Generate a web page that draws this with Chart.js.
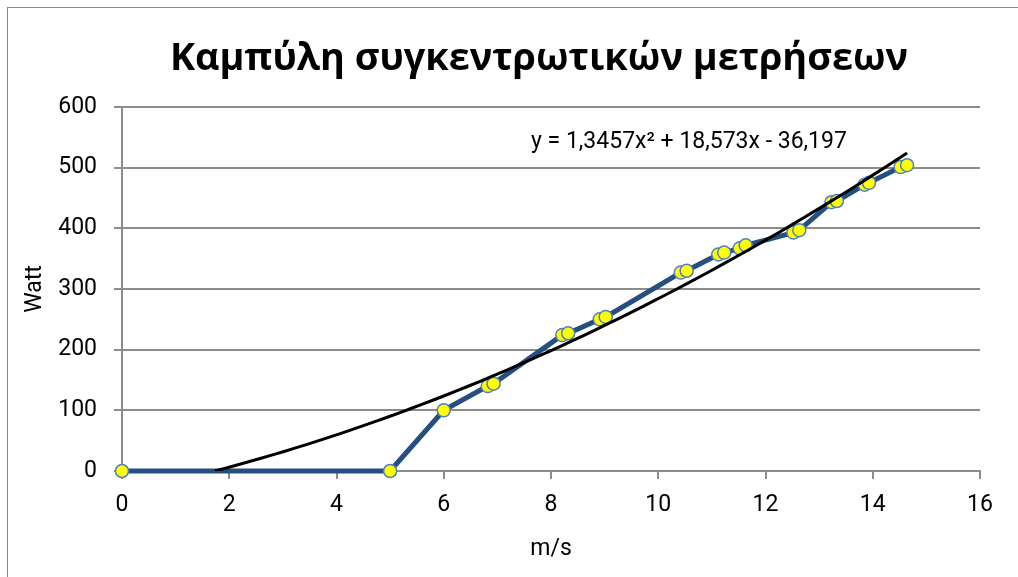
<!DOCTYPE html>
<html>
<head>
<meta charset="utf-8">
<script src="https://cdn.jsdelivr.net/npm/chart.js@4.4.0/dist/chart.umd.min.js"></script>
<style>
  html, body { margin: 0; padding: 0; background: #ffffff; }
  #wrap { position: relative; width: 1018px; height: 577px; }
  canvas { display: block; }
</style>
</head>
<body>
<div id="wrap"><canvas id="c" width="1018" height="577"></canvas></div>
<script>
// Wind speed (m/s) and measured power (W), in measurement order
const speeds = [0, 5.0, 6.0, 6.82, 6.93, 8.21, 8.32, 8.91, 9.02, 10.42, 10.53,
                11.12, 11.23, 11.52, 11.63, 12.52, 12.63, 13.23, 13.33, 13.85,
                13.93, 14.52, 14.64];
const power  = [0, 0, 100, 140, 144, 224, 227, 250, 254, 327, 330,
                357, 360, 367, 372, 393, 397, 443, 445, 472,
                475, 501, 504];

// Second-order trend: y = a*x^2 + b*x + c
const trendCoeffs = [1.3457, 18.573, -36.197];

const xTicks = [0, 2, 4, 6, 8, 10, 12, 14, 16];
const yTicks = [0, 100, 200, 300, 400, 500, 600];

const chartTitle = 'Καμπύλη συγκεντρωτικών μετρήσεων';
const xTitle = 'm/s';
const yTitle = 'Watt';

function trendAt(x) {
  const [a, b, c] = trendCoeffs;
  return a * x * x + b * x + c;
}

// Trend curve sampled over the measured range, starting where it crosses zero
function trendPoints() {
  const [a, b, c] = trendCoeffs;
  const x0 = (-b + Math.sqrt(b * b - 4 * a * c)) / (2 * a);
  const x1 = Math.max(...speeds);
  const n = 60;
  const pts = [];
  for (let i = 0; i <= n; i++) {
    const x = x0 + (x1 - x0) * i / n;
    pts.push({ x: x, y: trendAt(x) });
  }
  return pts;
}

function fmtNum(v) { return String(v).replace('.', ','); }
function equationText() {
  const [a, b, c] = trendCoeffs;
  return 'y = ' + fmtNum(a) + 'x² + ' + fmtNum(b) + 'x ' + (c < 0 ? '- ' : '+ ') + fmtNum(Math.abs(c));
}

const GRID = '#8c8c8c';
const TEXT = '#000000';

const decorations = {
  id: 'decorations',
  beforeDraw(chart) {
    const ctx = chart.ctx;
    ctx.save();
    ctx.fillStyle = '#ffffff';
    ctx.fillRect(0, 0, chart.width, chart.height);
    ctx.strokeStyle = '#8a8a8a';
    ctx.lineWidth = 1;
    ctx.strokeRect(7.5, 7.5, chart.width + 20, chart.height + 20);
    ctx.restore();
  },
  afterDraw(chart) {
    const ctx = chart.ctx;
    ctx.save();
    // chart title, kept to the width of the heading block
    ctx.fillStyle = TEXT;
    ctx.font = 'bold 38px "Open Sans", "Noto Sans", sans-serif';
    ctx.textBaseline = 'alphabetic';
    ctx.textAlign = 'left';
    const w = ctx.measureText(chartTitle).width;
    const target = 738;
    const cx = 539;
    ctx.translate(cx - target / 2, 70);
    ctx.scale(target / w, 1);
    ctx.fillText(chartTitle, 0, 0);
    ctx.restore();

    // trend equation
    ctx.save();
    ctx.fillStyle = TEXT;
    ctx.font = '23px Roboto, "Noto Sans", sans-serif';
    ctx.textBaseline = 'alphabetic';
    ctx.textAlign = 'left';
    ctx.fillText(equationText(), 531, 148);
    ctx.restore();
  }
};

new Chart(document.getElementById('c'), {
  type: 'scatter',
  data: {
    datasets: [
      {
        label: 'Trend',
        data: trendPoints(),
        showLine: true,
        borderColor: '#000000',
        borderWidth: 3,
        pointRadius: 0,
        fill: false,
        tension: 0
      },
      {
        label: 'Power',
        data: speeds.map((x, i) => ({ x: x, y: power[i] })),
        showLine: true,
        clip: false,
        borderColor: '#264e7f',
        borderWidth: 5,
        pointRadius: 6.5,
        pointHoverRadius: 6.5,
        pointBackgroundColor: '#ffff00',
        pointBorderColor: '#4f81bd',
        pointBorderWidth: 1.5,
        fill: false,
        tension: 0
      }
    ]
  },
  options: {
    responsive: false,
    animation: false,
    layout: { padding: { left: 0, right: 38, top: 107, bottom: 0 } },
    plugins: {
      legend: { display: false },
      tooltip: { enabled: false },
      title: { display: false }
    },
    scales: {
      x: {
        type: 'linear',
        min: xTicks[0],
        max: xTicks[xTicks.length - 1],
        afterBuildTicks: s => { s.ticks = xTicks.map(v => ({ value: v })); },
        afterFit: s => { s.height = 577 - 471; },
        grid: { display: true, drawOnChartArea: false, drawTicks: true, tickLength: 8, color: GRID, lineWidth: 2 },
        border: { display: true, color: GRID, width: 2 },
        ticks: { color: TEXT, padding: 12, maxRotation: 0, font: { family: 'Roboto, "Noto Sans", sans-serif', size: 23 } },
        title: { display: true, text: xTitle, color: TEXT, padding: { top: 0, bottom: 14 }, font: { family: 'Roboto, "Noto Sans", sans-serif', size: 23 } }
      },
      y: {
        type: 'linear',
        min: yTicks[0],
        max: yTicks[yTicks.length - 1],
        afterBuildTicks: s => { s.ticks = yTicks.map(v => ({ value: v })); },
        afterFit: s => { s.width = 122; },
        grid: { display: true, drawOnChartArea: true, drawTicks: true, tickLength: 8, color: GRID, lineWidth: 2 },
        border: { display: true, color: GRID, width: 2 },
        ticks: { color: TEXT, padding: 17, font: { family: 'Roboto, "Noto Sans", sans-serif', size: 23 } },
        title: { display: true, text: yTitle, color: TEXT, padding: { top: 21, bottom: 0 }, font: { family: 'Roboto, "Noto Sans", sans-serif', size: 23 } }
      }
    }
  },
  plugins: [decorations]
});
</script>
</body>
</html>
